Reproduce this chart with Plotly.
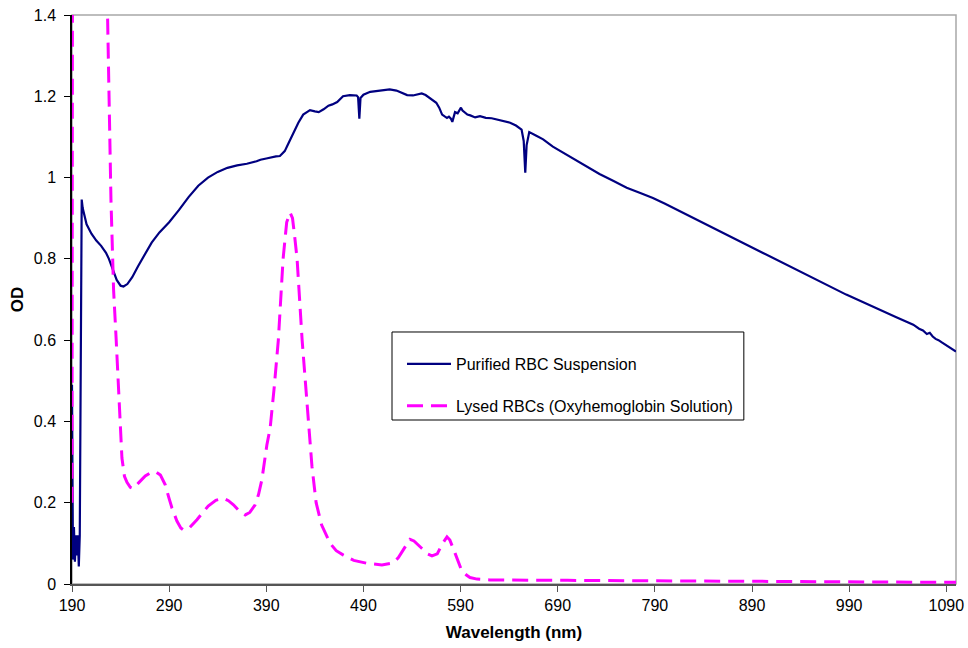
import plotly.graph_objects as go

# Purified RBC Suspension (wavelength nm, OD)
blue_nm = [190, 191, 192, 193, 194, 195, 196, 197, 198, 198.8, 199.4, 200, 201, 203, 205, 210, 215, 220, 225, 228,
           232, 236, 240, 243, 247, 252, 258, 265, 272, 280, 290, 300, 310, 320, 330, 340, 350, 360, 370, 380,
           384, 390, 395, 400, 404, 409, 413, 418, 423, 428, 435, 440, 444, 449, 454, 458, 463, 469, 476, 483,
           484.5, 485.8, 487, 490, 497, 507, 517, 524, 530, 535, 541, 545, 550, 554, 558, 562, 565, 568, 571, 574,
           576, 578, 580, 581.5, 583, 584.3, 587, 590.4, 592, 594.5, 597, 600, 605, 610, 616, 622, 627, 634, 641, 647,
           652.8, 655, 656.6, 658, 660.7, 668, 675, 685, 695, 706, 720, 733, 747, 761, 775, 788, 800, 815, 830, 845,
           860, 875, 890, 905, 919, 935, 953, 970, 987, 1004, 1021, 1038, 1056, 1062, 1066, 1070, 1073, 1076, 1079, 1082,
           1085, 1088, 1091, 1094, 1097, 1100]
blue_od = [0.49, 0.06, 0.14, 0.055, 0.12, 0.07, 0.12, 0.043, 0.12, 0.5, 0.85, 0.946, 0.925, 0.905, 0.885, 0.862, 0.845, 0.832, 0.815, 0.80,
           0.772, 0.748, 0.734, 0.732, 0.738, 0.755, 0.782, 0.812, 0.84, 0.865, 0.89, 0.92, 0.952, 0.98, 1.0, 1.014, 1.024, 1.03, 1.034, 1.04,
           1.044, 1.047, 1.05, 1.052, 1.053, 1.065, 1.085, 1.11, 1.135, 1.155, 1.166, 1.163, 1.161, 1.168, 1.177, 1.18, 1.186, 1.2, 1.203, 1.202,
           1.198, 1.145, 1.196, 1.204, 1.211, 1.214, 1.217, 1.214, 1.208, 1.203, 1.202, 1.205, 1.207, 1.203, 1.196, 1.19, 1.184, 1.172, 1.155, 1.150,
           1.147, 1.15, 1.145, 1.137, 1.15, 1.161, 1.158, 1.172, 1.165, 1.16, 1.155, 1.153, 1.148, 1.151, 1.147, 1.146, 1.143, 1.14, 1.135, 1.128,
           1.118, 1.09, 1.012, 1.08, 1.112, 1.103, 1.094, 1.076, 1.062, 1.046, 1.028, 1.009, 0.992, 0.975, 0.962, 0.95, 0.936, 0.918, 0.9, 0.882,
           0.864, 0.846, 0.828, 0.81, 0.794, 0.774, 0.753, 0.733, 0.712, 0.694, 0.675, 0.657, 0.638, 0.628, 0.624, 0.615, 0.618, 0.609, 0.603, 0.6,
           0.595, 0.59, 0.586, 0.58, 0.577, 0.572]

# Lysed RBCs (Oxyhemoglobin Solution)
pink_nm = [190, 191, 224, 226.6, 230.1, 232.8, 235.5, 238.7, 241.4, 244, 246.6, 250, 253, 259, 265.4, 271, 275.7, 281, 286, 290,
           292.9, 298, 302, 304.8, 310, 318.6, 330.2, 338, 345.9, 351, 356.2, 362, 368.3, 373, 378.5, 382, 385.4, 390.6, 394, 398,
           402.4, 407.3, 411, 414.5, 417, 419, 421.7, 426.9, 433, 437, 441.3, 447, 455.7, 462, 469.4, 480, 493.4, 509, 520.8, 526,
           531, 535, 538, 542, 546, 550, 556, 560.6, 566, 571, 576, 579, 584.3, 588, 591, 596, 599.7, 607, 620, 700,
           800, 900, 990, 1050, 1100]
pink_od = [0.2, 3.0, 3.0, 1.4, 0.946, 0.724, 0.6, 0.453, 0.31, 0.265, 0.25, 0.238, 0.235, 0.25, 0.266, 0.274, 0.277, 0.268, 0.244, 0.21,
           0.187, 0.155, 0.138, 0.133, 0.136, 0.158, 0.192, 0.206, 0.211, 0.205, 0.195, 0.18, 0.17, 0.176, 0.195, 0.22, 0.256, 0.342, 0.384, 0.48,
           0.6, 0.8, 0.89, 0.914, 0.9, 0.86, 0.8, 0.6, 0.4, 0.29, 0.2, 0.145, 0.1, 0.082, 0.071, 0.058, 0.051, 0.047, 0.052, 0.065,
           0.084, 0.1, 0.11, 0.106, 0.096, 0.088, 0.074, 0.069, 0.074, 0.098, 0.116, 0.108, 0.076, 0.05, 0.034, 0.022, 0.016, 0.012, 0.01, 0.009,
           0.008, 0.007, 0.006, 0.005, 0.004]

x_ticks = [190, 290, 390, 490, 590, 690, 790, 890, 990, 1090]
y_ticks = [0, 0.2, 0.4, 0.6, 0.8, 1, 1.2, 1.4]
y_tick_text = ["0", "0.2", "0.4", "0.6", "0.8", "1", "1.2", "1.4"]

FONT = "Liberation Sans, Arial, sans-serif"

fig = go.Figure()
fig.add_trace(go.Scatter(x=blue_nm, y=blue_od, mode="lines", name="Purified RBC Suspension",
                         line=dict(color="#000080", width=2.2), legendgroup="a"))
fig.add_trace(go.Scatter(x=pink_nm, y=pink_od, mode="lines", name="Lysed RBCs (Oxyhemoglobin Solution)",
                         line=dict(color="#FF00FF", width=3, dash="16px,8px"), legendgroup="b"))

fig.update_layout(
    width=968, height=648,
    margin=dict(l=72, r=12, t=15, b=64),
    paper_bgcolor="white", plot_bgcolor="white",
    font=dict(family=FONT, size=16, color="black"),
    showlegend=True,
    legend=dict(x=0.3733, y=0.4165, xanchor="left", yanchor="top",
                bgcolor="rgba(0,0,0,0)", borderwidth=0,
                font=dict(size=16), tracegroupgap=18, traceorder="grouped", itemwidth=44),
    shapes=[
        dict(type="rect", xref="paper", yref="paper", x0=0, x1=1, y0=0, y1=1,
             line=dict(color="#a8a8a8", width=1.5), layer="below"),
        dict(type="rect", xref="paper", yref="paper", x0=0.362, x1=0.760, y0=0.2882, y1=0.4429,
             line=dict(color="black", width=1), fillcolor="white", layer="below"),
    ],
)
fig.update_xaxes(range=[190, 1100], tickvals=x_ticks, ticks="outside", ticklen=6, tickcolor="#555555",
                 showline=True, linecolor="#555555", linewidth=2, showgrid=False, zeroline=False,
                 automargin=False,
                 title=dict(text="<b>Wavelength (nm)</b>", font=dict(size=17), standoff=13),
                 tickfont=dict(size=16))
fig.update_yaxes(range=[0, 1.4], tickvals=y_ticks, ticktext=y_tick_text, ticks="outside", ticklen=6,
                 tickcolor="black", showline=True, linecolor="black", linewidth=1.5, showgrid=False, zeroline=False,
                 automargin=False, ticklabelstandoff=5,
                 title=dict(text="<b>OD</b>", font=dict(size=17), standoff=6),
                 tickfont=dict(size=16))

fig.write_html("out.html")
